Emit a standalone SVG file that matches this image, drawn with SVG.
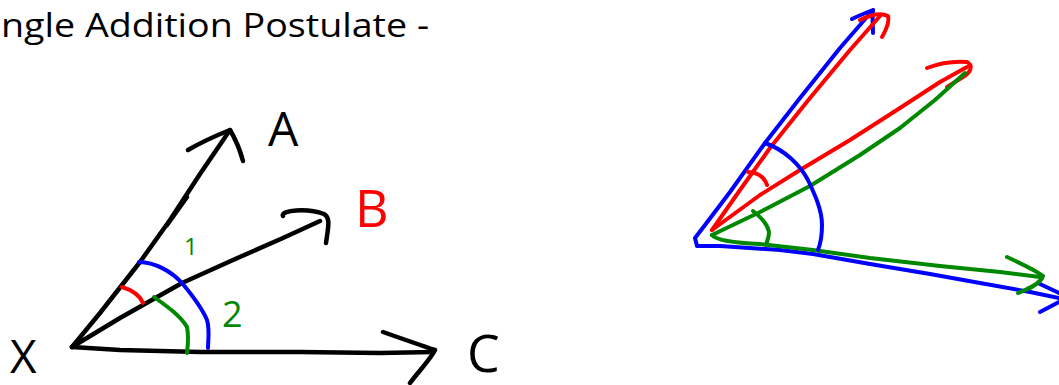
<svg xmlns="http://www.w3.org/2000/svg" width="1059" height="385" viewBox="0 0 1059 385">
<style>
.s{fill:none;stroke-linecap:round;stroke-linejoin:round}
.k{stroke:#000;stroke-width:4.5}
.r{stroke:#ff0000;stroke-width:4}
.g{stroke:#008800;stroke-width:4}
.b{stroke:#0000ff;stroke-width:4}
.t{font-family:"Comic Sans MS","Open Sans","Liberation Sans",sans-serif}
</style>
<rect width="1059" height="385" fill="#fff"/>
<text class="t" x="1" y="37" font-size="32" textLength="428" lengthAdjust="spacingAndGlyphs" fill="#000">ngle Addition Postulate -</text>
<g id="left">
<g id="rays">
<path class="s k" d="M72,347 L100,313 L140,262 L170,220 L200,174 L230,130"/>
<path class="s k" d="M167,225 L187,197"/>
<path class="s k" d="M188,150 C200,143 215,136 230,130 C236,140 240,150 243,161"/>
<path class="s k" d="M72,347 L120,318 L182,283 L233,260 L283,238 L320,221"/>
<path class="s k" d="M283,216 C280,210 308,208 324,214 C331,218 328,228 326,243"/>
<path class="s k" d="M72,347 L120,350 L200,352 L300,352 L380,353 L433,352"/>
<path class="s k" d="M383,332 C400,338 420,345 435,350 C430,360 418,372 410,383"/>
</g>
<g id="arcs">
<path class="s b" d="M139,262 C155,262 172,272 182,283 C192,295 202,308 207,320 C210,330 208,340 208,348"/>
<path class="s r" d="M122,287 C132,290 140,296 143,303"/>
<path class="s g" d="M154,297 C165,305 180,315 187,327 C189,337 188,345 187,353"/>
</g>
<g id="labels">
<text class="t" x="268" y="146" font-size="48" fill="#000">A</text>
<text class="t" x="355" y="227" font-size="52" fill="#ff0000">B</text>
<text class="t" x="467" y="372" font-size="52" fill="#000">C</text>
<text class="t" x="10" y="373" font-size="46" fill="#000">X</text>
<text class="t" x="184" y="255" font-size="24" fill="#008800">1</text>
<text class="t" x="222" y="327" font-size="36" fill="#008800">2</text>
</g>
</g>
<g id="right">
<path class="s b" d="M873,10 L840,48 L800,98 L765,143 L730,192 L705,225 L695,238 L697,246 L720,246 L780,250 L813,254 L870,264 L930,274 L980,283 L1030,292 L1059,298"/>
<path class="s b" d="M852,19 C860,15 868,12 873,10 C872,18 873,26 873,33"/>
<path class="s b" stroke-width="6" d="M1040,284 L1059,293"/>
<path class="s b" d="M1040,312 L1059,302"/>
<path class="s r" d="M712,230 L740,190 L770,148 L810,98 L850,50 L880,16"/>
<path class="s r" d="M860,20 C870,15 880,12 888,16 C890,22 886,30 882,37"/>
<path class="s r" d="M712,230 L760,195 L800,170 L850,140 L900,108 L940,82 L967,67"/>
<path class="s r" stroke-width="5" d="M927,68 C940,63 955,61 967,62 C974,66 970,73 963,77 L947,87"/>
<path class="s g" d="M712,235 L760,212 L810,186 L860,155 L900,128 L935,100 L965,73"/>
<path class="s g" d="M712,235 C716,240 735,243 760,244 L813,250 L870,258 L940,266 L1000,272 L1040,277"/>
<path class="s g" d="M1007,257 C1020,263 1035,270 1043,276 C1040,285 1025,290 1018,293"/>
<path class="s b" d="M765,143 C785,150 800,165 808,180 C815,195 822,210 822,225 C822,238 820,245 818,250"/>
<path class="s r" d="M748,172 C756,172 764,176 767,185"/>
<path class="s g" d="M753,211 C762,218 768,226 769,232 C769,238 767,241 766,245"/>
</g>
</svg>
